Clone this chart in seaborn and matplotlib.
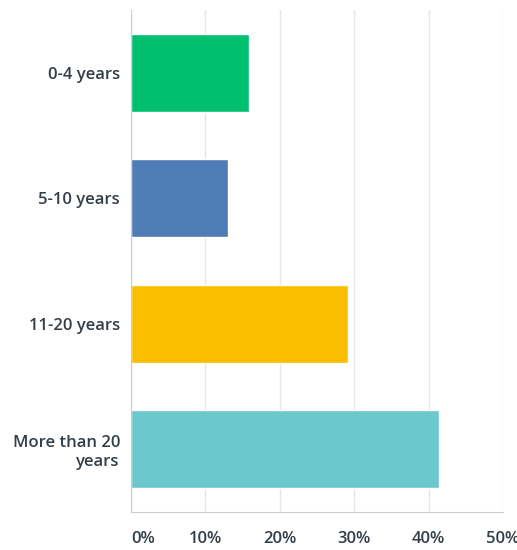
import pandas as pd
import seaborn as sns
import matplotlib.pyplot as plt
from matplotlib.ticker import FixedLocator

# Survey answers (percent of respondents)
categories = ['0-4 years', '5-10 years', '11-20 years', 'More than 20\nyears']
percents = [15.9, 13.0, 29.2, 41.4]
bar_colors = ['#00BF6F', '#507CB6', '#F9BE00', '#6BC8CD']
x_ticks = [0, 10, 20, 30, 40, 50]
x_labels = ['0%', '10%', '20%', '30%', '40%', '50%']

df = pd.DataFrame({'category': categories, 'percent': percents})

sns.set_style('white')
plt.rcParams['font.family'] = ['Open Sans', 'DejaVu Sans']

fig = plt.figure(figsize=(5.17, 5.5), dpi=100)
ax = fig.add_axes([0.2534, 0.069, 0.7196, 0.913])

sns.barplot(data=df, x='percent', y='category', hue='category', palette=bar_colors,
            legend=False, width=0.62, saturation=1, ax=ax)

ax.set_xlim(0, 50)
ax.set_ylim(3.5, -0.5)
ax.xaxis.set_major_locator(FixedLocator(x_ticks))
ax.set_xticklabels(x_labels)
ax.grid(axis='x', color='#e6e6e6', linewidth=1)
ax.set_axisbelow(True)
ax.set_xlabel('')
ax.set_ylabel('')

for side in ['top', 'right']:
    ax.spines[side].set_visible(False)
ax.spines['left'].set_color('#cccccc')
ax.spines['bottom'].set_color('#cccccc')

ax.tick_params(axis='both', length=0, labelsize=12, labelcolor='#333e48')
ax.tick_params(axis='x', pad=14)
ax.tick_params(axis='y', pad=8)
for lbl in ax.get_xticklabels() + ax.get_yticklabels():
    lbl.set_fontweight('semibold')
ax.get_xticklabels()[0].set_horizontalalignment('left')
for lbl in ax.get_yticklabels():
    lbl.set_multialignment('right')

fig.savefig('out.png', dpi=100)
